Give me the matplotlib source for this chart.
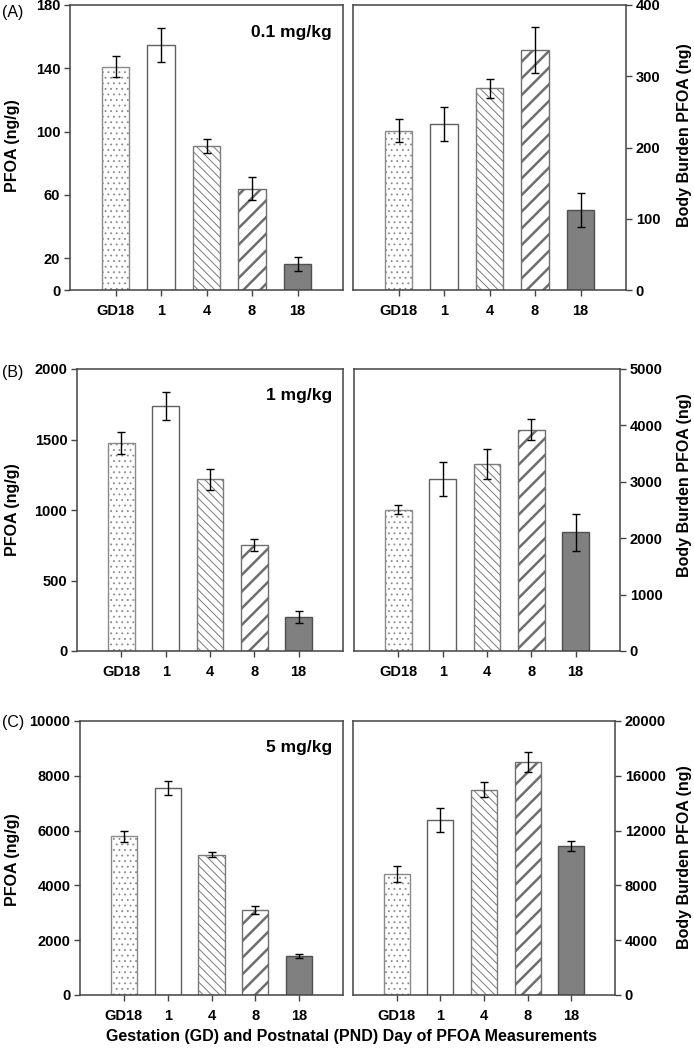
import matplotlib
matplotlib.use("Agg")
import matplotlib.pyplot as plt

plt.rcParams['font.family'] = ['Liberation Sans', 'DejaVu Sans']

# dias de medida
dias = ['GD18', '1', '4', '8', '18']

# (A) 0.1 mg/kg
a_conc = [141, 154.7, 90.9, 64, 16.4]
a_conc_err = [6.5, 11, 4.4, 7.4, 4.6]
a_carga = [223.6, 232.5, 283, 336.8, 112.3]
a_carga_err = [15.7, 24, 13, 32.5, 24.5]

# (B) 1 mg/kg
b_conc = [1476, 1738, 1217, 752, 243]
b_conc_err = [78, 100, 76, 43, 43]
b_carga = [2506, 3046, 3314, 3925, 2102]
b_carga_err = [83, 306, 265, 190, 335]

# (C) 5 mg/kg
c_conc = [5794, 7552, 5127, 3103, 1430]
c_conc_err = [195, 243, 103, 158, 79]
c_carga = [8846, 12758, 14994, 16987, 10887]
c_carga_err = [595, 863, 535, 730, 377]

dosis = ['0.1 mg/kg', '1 mg/kg', '5 mg/kg']
etiquetas = ['(A)', '(B)', '(C)']

ticks_izq = [[0, 20, 60, 100, 140, 180],
             [0, 500, 1000, 1500, 2000],
             [0, 2000, 4000, 6000, 8000, 10000]]
ticks_der = [[0, 100, 200, 300, 400],
             [0, 1000, 2000, 3000, 4000, 5000],
             [0, 4000, 8000, 12000, 16000, 20000]]

W, H = 694, 1049
fig = plt.figure(figsize=(W / 100, H / 100), dpi=100)

# cajas en pixeles: x0, x1, ytop, ybottom
cajas = [
    [(70, 343, 5, 290), (353, 626, 5, 290)],
    [(77, 343, 369, 651), (354, 620, 369, 651)],
    [(80, 343, 721, 995), (353, 615, 721, 995)],
]

# estilo de cada barra: hatch, face, edge, hatch lw
estilos = [
    ('...', 'white', '#8a8a8a', 0.6),
    ('', 'white', '#606060', 1.0),
    ('\\\\\\\\', 'white', '#7a7a7a', 0.7),
    ('//', 'white', '#6e6e6e', 1.8),
    ('', '#808080', '#505050', 1.0),
]

spine_col = '#444444'


def hacer_ejes(caja):
    x0, x1, yt, yb = caja
    return fig.add_axes([x0 / W, 1 - yb / H, (x1 - x0) / W, (yb - yt) / H])


def dibujar(ax, valores, errores, yticks, lado):
    x = list(range(len(dias)))
    for i in x:
        h, fc, ec, hlw = estilos[i]
        with plt.rc_context({'hatch.linewidth': hlw}):
            b = ax.bar(i, valores[i], width=0.6, color=fc, edgecolor=ec,
                       hatch=h, linewidth=1.0, zorder=2)
        for p in b:
            if hasattr(p, 'set_hatch_linewidth'):
                p.set_hatch_linewidth(hlw)
    ax.errorbar(x, valores, yerr=errores, fmt='none', ecolor='black',
                elinewidth=1.0, capsize=3, capthick=1.0, zorder=3)
    ax.set_xlim(-1, 5)
    ax.set_ylim(yticks[0], yticks[-1])
    ax.set_xticks(x)
    ax.set_xticklabels(dias)
    ax.set_yticks(yticks)
    for s in ax.spines.values():
        s.set_color(spine_col)
        s.set_linewidth(1.1)
    ax.tick_params(axis='x', direction='out', length=4, width=1,
                   color=spine_col, pad=6, labelsize=10.5)
    if lado == 'der':
        ax.yaxis.tick_right()
    ax.tick_params(axis='y', direction='out', length=4, width=1,
                   color=spine_col, pad=3, labelsize=10.5)
    for t in ax.get_xticklabels() + ax.get_yticklabels():
        t.set_fontweight('bold')


datos = [
    (a_conc, a_conc_err, a_carga, a_carga_err),
    (b_conc, b_conc_err, b_carga, b_carga_err),
    (c_conc, c_conc_err, c_carga, c_carga_err),
]

centro_izq = [146, 510, 860]
centro_der = [135, 485, 857]
y_etiq = [13, 373, 723]

for k in range(3):
    conc, conc_err, carga, carga_err = datos[k]
    ax1 = hacer_ejes(cajas[k][0])
    ax2 = hacer_ejes(cajas[k][1])
    dibujar(ax1, conc, conc_err, ticks_izq[k], 'izq')
    dibujar(ax2, carga, carga_err, ticks_der[k], 'der')
    ax1.text(0.96, 0.905, dosis[k], transform=ax1.transAxes, ha='right',
             va='center', fontsize=12.5, fontweight='bold')
    fig.text(2 / W, 1 - y_etiq[k] / H, etiquetas[k], ha='left', va='center',
             fontsize=11.5)
    fig.text(13 / W, 1 - centro_izq[k] / H, 'PFOA (ng/g)', rotation=90,
             ha='center', va='center', fontsize=11.5, fontweight='bold')
    fig.text(685 / W, 1 - centro_der[k] / H, 'Body Burden PFOA (ng)',
             rotation=90, ha='center', va='center', fontsize=11.5,
             fontweight='bold')

fig.text(352 / W, 1 - 1037 / H,
         'Gestation (GD) and Postnatal (PND) Day of PFOA Measurements',
         ha='center', va='center', fontsize=11.5, fontweight='bold')

fig.savefig('out.png', dpi=100, facecolor='white')
